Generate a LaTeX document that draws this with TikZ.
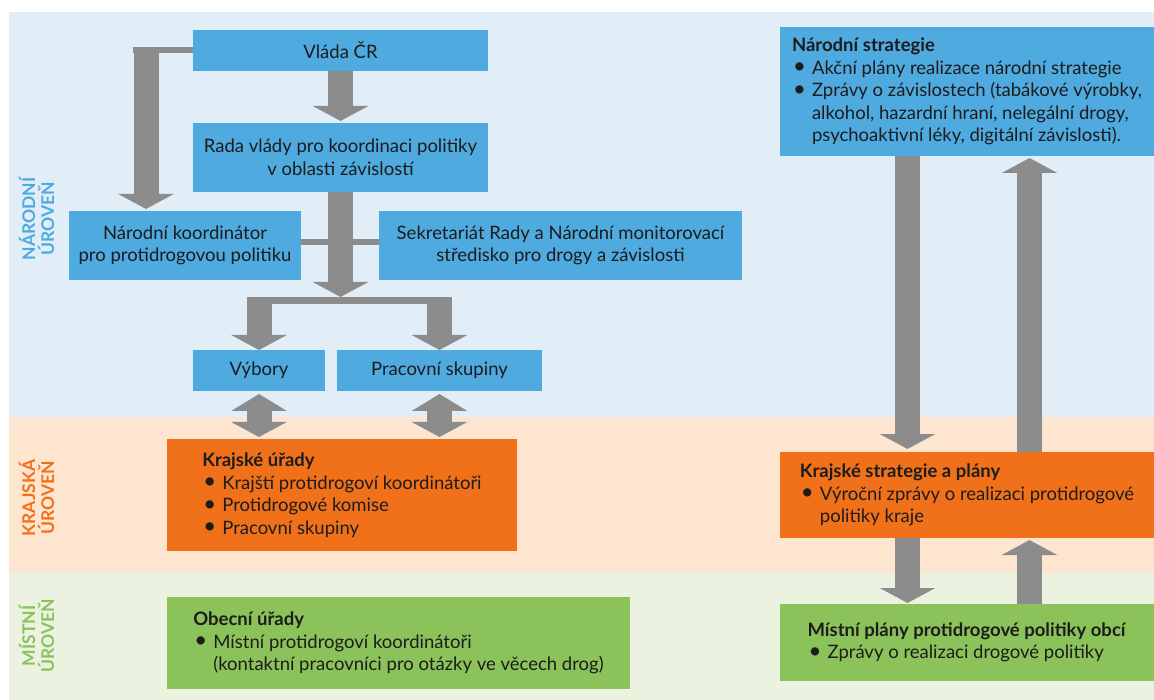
\documentclass[tikz,border=0pt]{standalone}
\usepackage{fontspec}
\usepackage{graphicx}
\setmainfont{Lato}
\usetikzlibrary{arrows.meta}
\definecolor{bgblue}{HTML}{E1EEF8}
\definecolor{bgorange}{HTML}{FDE5D0}
\definecolor{bggreen}{HTML}{EBF3E0}
\definecolor{boxblue}{HTML}{4FAAE0}
\definecolor{boxorange}{HTML}{F1711A}
\definecolor{boxgreen}{HTML}{8BC25A}
\definecolor{arrowgrey}{HTML}{8C8C8C}
\definecolor{textdark}{HTML}{1C1C1C}
\newcommand{\bul}{\makebox[20pt][l]{\hspace{1pt}\raisebox{0.5pt}{\scalebox{1.2}{\textbullet}}}}
\begin{document}
\begin{tikzpicture}[x=1pt,y=-1pt,
  box/.style={draw=none, inner sep=0pt, outer sep=0pt, align=center,
    font=\fontsize{18.5}{22.5}\selectfont, text=textdark},
  bluebox/.style={box, fill=boxblue},
  orangebox/.style={box, fill=boxorange},
  greenbox/.style={box, fill=boxgreen},
  listbox/.style={align=left},
  blockarrow/.style={draw=arrowgrey, line width=25pt, -{Triangle[length=15pt,width=55pt]}},
  dblarrow/.style={draw=arrowgrey, line width=25pt,
    {Triangle[length=17pt,width=55pt]}-{Triangle[length=15pt,width=55pt]}},
  thinbar/.style={draw=arrowgrey, line width=6pt},
  tbar/.style={draw=arrowgrey, line width=7pt},
  level/.style={rotate=90, align=center, inner sep=0pt,
    font=\bfseries\fontsize{17.5}{19}\selectfont}
]
\useasboundingbox (0,0) rectangle (1154,700);
% level bands
\fill[bgblue] (9,12) rectangle (1154,417);
\fill[bgorange] (9,417) rectangle (1154,573);
\fill[bggreen] (9,573) rectangle (1154,700);

% level labels
\node[level, text=boxblue] (lnar) at (36.5,219) {NÁRODNÍ\\ÚROVEŇ};
\node[level, text=boxorange] (lkraj) at (36.5,498) {KRAJSKÁ\\ÚROVEŇ};
\node[level, text=boxgreen] (lmist) at (36.5,636) {MÍSTNÍ\\ÚROVEŇ};

% boxes
\node[bluebox, minimum width=295pt, minimum height=41pt] (vlada) at (340.5,50.5) {Vláda ČR};
\node[bluebox, minimum width=295pt, minimum height=69pt] (rada) at (340.5,157.5)
  {Rada vlády pro koordinaci politiky\\v oblasti závislostí};
\node[bluebox, minimum width=232pt, minimum height=69pt] (koord) at (185,245.5)
  {Národní koordinátor\\pro protidrogovou politiku};
\node[bluebox, minimum width=363pt, minimum height=69pt] (sekr) at (560.5,245.5)
  {Sekretariát Rady a Národní monitorovací\\středisko pro drogy a závislosti};
\node[bluebox, minimum width=132pt, minimum height=41pt] (vybory) at (259,370.5) {Výbory};
\node[bluebox, minimum width=205pt, minimum height=41pt] (prac) at (439.5,370.5) {Pracovní skupiny};
\node[orangebox, listbox, minimum width=350pt, minimum height=112pt] (krajske) at (342,495)
  {\textbf{Krajské úřady}\\
   \bul Krajští protidrogoví koordinátoři\\
   \bul Protidrogové komise\\
   \bul Pracovní skupiny};
\node[greenbox, listbox, minimum width=463pt, minimum height=92pt] (obecni) at (398.5,643)
  {\textbf{Obecní úřady}\\
   \bul Místní protidrogoví koordinátoři\\
   \hspace*{20pt}(kontaktní pracovníci pro otázky ve věcech drog)};
\node[bluebox, listbox, minimum width=374pt, minimum height=129pt] (narstrat) at (967,91.5)
  {\textbf{Národní strategie}\\
   \bul Akční plány realizace národní strategie\\
   \bul Zprávy o závislostech (tabákové výrobky,\\
   \hspace*{20pt}alkohol, hazardní hraní, nelegální drogy,\\
   \hspace*{20pt}psychoaktivní léky, digitální závislosti).};
\node[orangebox, listbox, minimum width=374pt, minimum height=86pt] (krajstrat) at (967,495)
  {\textbf{Krajské strategie a plány}\\
   \bul Výroční zprávy o realizaci protidrogové\\
   \hspace*{20pt}politiky kraje};
\node[greenbox, listbox, minimum width=374pt, minimum height=77pt] (mistni) at (967,642.5)
  {\textbf{Místní plány protidrogové politiky obcí}\\
   \bul Zprávy o realizaci drogové politiky};

% connectors
\coordinate (lc) at (146,47);
\draw[thinbar] (vlada.west) -- (133,50.5);
\draw[blockarrow, shorten >=2pt] (lc) -- (lc |- koord.north);
\draw[blockarrow, shorten >=2pt] (vlada.south) -- (rada.north);
\draw[thinbar] ([yshift=3.5pt]koord.east) -- ([yshift=3.5pt]sekr.west);
\coordinate (tj) at (340.5,297);
\coordinate (tb) at (340.5,300.5);
\draw[blockarrow] (rada.south) -- (tj);
\draw[tbar] (vybory.north |- tb) -- (prac.north |- tb);
\draw[blockarrow] (vybory.north |- tj) -- (vybory.north);
\draw[blockarrow] (prac.north |- tj) -- (prac.north);
\draw[dblarrow] ([yshift=-3pt]vybory.south) -- ([yshift=2pt]krajske.north -| vybory.south);
\draw[dblarrow] ([yshift=-3pt]prac.south) -- ([yshift=2pt]krajske.north -| prac.south);

\coordinate (dx) at (907.5,0);
\coordinate (ux) at (1029.5,0);
\draw[blockarrow, shorten >=3pt] (dx |- narstrat.south) -- (dx |- krajstrat.north);
\draw[blockarrow, shorten >=2pt] (ux |- krajstrat.north) -- (ux |- narstrat.south);
\draw[blockarrow, shorten >=1pt] (dx |- krajstrat.south) -- (dx |- mistni.north);
\draw[blockarrow, shorten >=2pt] (ux |- mistni.north) -- (ux |- krajstrat.south);
\end{tikzpicture}
\end{document}
